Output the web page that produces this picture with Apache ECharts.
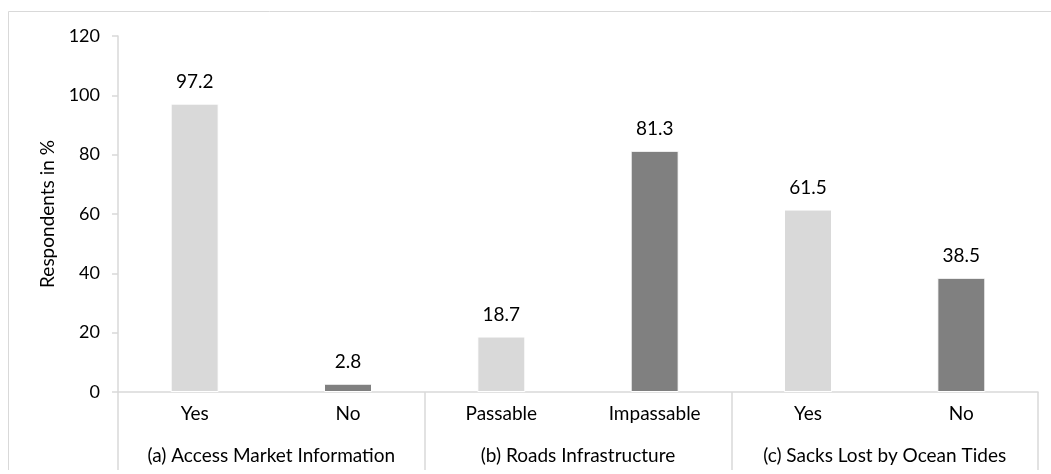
<!DOCTYPE html>
<html>
<head>
<meta charset="utf-8">
<style>
  html, body { margin: 0; padding: 0; background: #fff; }
  #chart { width: 1051px; height: 474px; }
</style>
<script src="https://cdn.jsdelivr.net/npm/echarts@6/dist/echarts.min.js"></script>
</head>
<body>
<div id="chart"></div>
<script>
// Answer categories along the inner axis
const answers = ['Yes', 'No', 'Passable', 'Impassable', 'Yes', 'No'];
// Question groups along the outer axis (two answers each)
const groups = ['(a) Access Market Information', '(b) Roads Infrastructure', '(c) Sacks Lost by Ocean Tides'];
// Share of respondents per answer, in %
const respondents = [97.2, 2.8, 18.7, 81.3, 61.5, 38.5];
// Value axis ticks
const yTicks = [0, 20, 40, 60, 80, 100, 120];

const FONT = 'Lato, "Open Sans", sans-serif';
const AXIS_GREY = '#d9d9d9';
const LIGHT = '#d9d9d9';
const DARK = '#808080';
const FS = 19;

const chart = echarts.init(document.getElementById('chart'), null, { renderer: 'canvas' });

chart.setOption({
  animation: false,
  backgroundColor: '#ffffff',
  textStyle: { fontFamily: FONT },
  grid: { left: 118, right: 13, top: 36, bottom: 82, containLabel: false },
  graphic: [{
    type: 'polyline',
    shape: { points: [[8.5, 470], [8.5, 11.5], [1060, 11.5]] },
    style: { stroke: AXIS_GREY, lineWidth: 1, fill: null },
    silent: true
  }],
  xAxis: [{
    type: 'category',
    data: answers,
    position: 'bottom',
    axisLine: { show: true, lineStyle: { color: AXIS_GREY, width: 1.5 } },
    axisTick: { show: false },
    axisLabel: { color: '#000', fontSize: FS, fontFamily: FONT, margin: 12, interval: 0 },
    splitLine: { show: false }
  }, {
    type: 'category',
    data: groups,
    position: 'bottom',
    axisLine: { show: false },
    axisTick: { show: true, length: 78, lineStyle: { color: AXIS_GREY, width: 1.5 } },
    axisLabel: { color: '#000', fontSize: FS, fontFamily: FONT, margin: 54, interval: 0 },
    splitLine: { show: false }
  }],
  yAxis: {
    type: 'value',
    min: yTicks[0],
    max: yTicks[yTicks.length - 1],
    interval: 20,
    name: 'Respondents in %',
    nameLocation: 'middle',
    nameGap: 55,
    nameRotate: 90,
    nameTextStyle: { color: '#000', fontSize: 19, fontFamily: FONT },
    axisLine: { show: true, lineStyle: { color: AXIS_GREY, width: 1.5 } },
    axisTick: { show: true, length: 6, lineStyle: { color: AXIS_GREY, width: 1.5 } },
    axisLabel: { color: '#000', fontSize: 18, fontFamily: FONT, margin: 18 },
    splitLine: { show: false }
  },
  series: [{
    type: 'bar',
    xAxisIndex: 0,
    data: respondents,
    barWidth: 48,
    itemStyle: {
      color: p => (p.dataIndex % 2 === 0 ? LIGHT : DARK),
      borderColor: '#ffffff',
      borderWidth: 1
    },
    label: {
      show: true,
      position: 'top',
      distance: 12,
      color: '#000',
      fontSize: FS,
      fontFamily: FONT,
      formatter: p => p.value.toFixed(1)
    }
  }]
});
</script>
</body>
</html>
